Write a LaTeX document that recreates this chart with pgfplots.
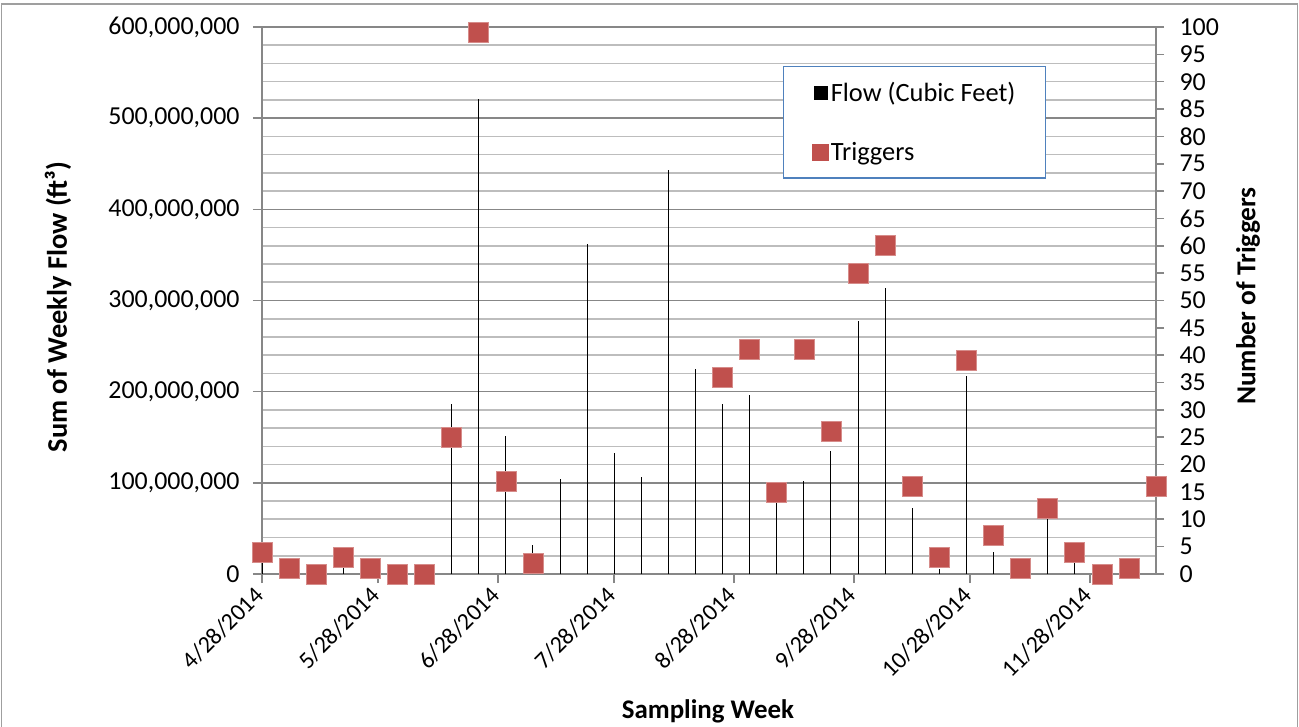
\documentclass[border=0pt]{standalone}
\usepackage{fontspec}
\setmainfont{Carlito}
\usepackage{pgfplots}
\usepackage{pgfplotstable}
\pgfplotsset{compat=1.18}

\definecolor{trig}{HTML}{C0504D}
\definecolor{trigedge}{HTML}{D68C8A}
\definecolor{gridmaj}{HTML}{878787}
\definecolor{gridmin}{HTML}{BDBDBD}
\definecolor{axisgray}{HTML}{878787}
\definecolor{legblue}{HTML}{4F81BD}

% Weekly sums: day = days after 4/28/2014, flow in ft^3, trig = number of triggers
\pgfplotstableread{
day flow trig
0   15000000  4
7   3000000   1
14  2000000   0
21  9000000   3
28  4000000   1
35  2000000   0
42  1000000   0
49  187000000 25
56  521000000 99
63  151000000 17
70  31500000  2
77  104000000 nan
84  362000000 nan
91  133000000 nan
98  106000000 nan
105 443000000 nan
112 225000000 nan
119 187000000 36
126 196000000 41
133 85000000  15
140 102000000 41
147 134500000 26
154 278000000 55
161 314000000 60
168 72400000  16
175 6000000   3
182 217000000 39
189 24000000  7
196 1000000   1
203 65000000  12
210 13000000  4
217 1000000   0
224 2000000   1
231 90000000  16
}\weekly

\begin{document}
\begin{tikzpicture}
\useasboundingbox (0bp,0bp) rectangle (1299bp,727bp);
\draw[axisgray!80, line width=1.2bp] (1.5bp,-10bp) -- (1.5bp,723bp) -- (1297.5bp,723bp) -- (1297.5bp,-10bp);
\pgfplotsset{every axis/.append style={font=\fontsize{26}{31}\selectfont}}

% Left axis: weekly flow as thin vertical drop lines
\begin{axis}[
  at={(262bp,153bp)}, anchor=south west,
  width=894bp, height=547bp, scale only axis,
  xmin=0, xmax=231, ymin=0, ymax=600000000,
  axis x line*=bottom, axis y line*=left,
  axis line style={axisgray, line width=1.6bp, -},
  xtick={0,30,61,91,122,153,183,214},
  xticklabels={4/28/2014,5/28/2014,6/28/2014,7/28/2014,8/28/2014,9/28/2014,10/28/2014,11/28/2014},
  xticklabel style={rotate=45, anchor=east, font=\fontsize{24}{29}\selectfont},
  xticklabel shift=6bp,
  ytick={0,100000000,200000000,300000000,400000000,500000000,600000000},
  minor y tick num=4,
  ymajorgrids, yminorgrids,
  major grid style={gridmaj, line width=1.6bp},
  minor grid style={gridmin, line width=1.6bp},
  tick style={axisgray, line width=1.6bp},
  tick align=outside, major tick length=9bp, minor tick length=0pt,
  scaled y ticks=false,
  yticklabel style={xshift=-10bp, /pgf/number format/.cd, fixed, 1000 sep={,}},
  /pgf/number format/assume math mode=true,
  clip=false,
]
\addplot[ycomb, no marks, black, line width=1bp] table[x=day, y=flow]{\weekly};
\end{axis}

% Right axis: number of triggers
\begin{axis}[
  at={(262bp,153bp)}, anchor=south west,
  width=894bp, height=547bp, scale only axis,
  xmin=0, xmax=231, ymin=0, ymax=100,
  axis x line=none, axis y line*=right,
  axis line style={axisgray, line width=1.6bp, -},
  ytick={0,5,...,100},
  tick style={axisgray, line width=1.6bp},
  tick align=outside, major tick length=8bp,
  yticklabel style={anchor=west, xshift=12bp},
  /pgf/number format/assume math mode=true,
  clip=false,
  legend cell align=left,
  legend style={at={(0.5828,0.9287)}, anchor=north west,
    draw=legblue, line width=1.2bp, fill=white,
    inner xsep=28bp, inner ysep=14bp, row sep=35bp,
    font=\fontsize{26.5}{31}\selectfont},
]
\addlegendimage{legend image code/.code={\fill[black] (0bp,-6.5bp) rectangle (13bp,6.5bp);}}
\addlegendentry{Flow (Cubic Feet)}
\addlegendimage{legend image code/.code={\fill[trig] (-2bp,-8bp) rectangle (14bp,8bp);}}
\addlegendentry{Triggers}
\addplot[only marks, mark=square*, mark size=10bp,
  mark options={fill=trig, draw=trigedge, line width=0.6bp}, forget plot]
  table[x=day, y=trig]{\weekly};
\end{axis}

\node[rotate=90, font=\fontsize{28.5}{33}\selectfont\bfseries] at (58bp,420bp) {Sum of Weekly Flow (ft³)};
\node[rotate=90, font=\fontsize{27.5}{33}\selectfont\bfseries] at (1248bp,431bp) {Number of Triggers};
\node[font=\fontsize{27}{32}\selectfont\bfseries] at (708bp,16bp) {Sampling Week};
\end{tikzpicture}
\end{document}
